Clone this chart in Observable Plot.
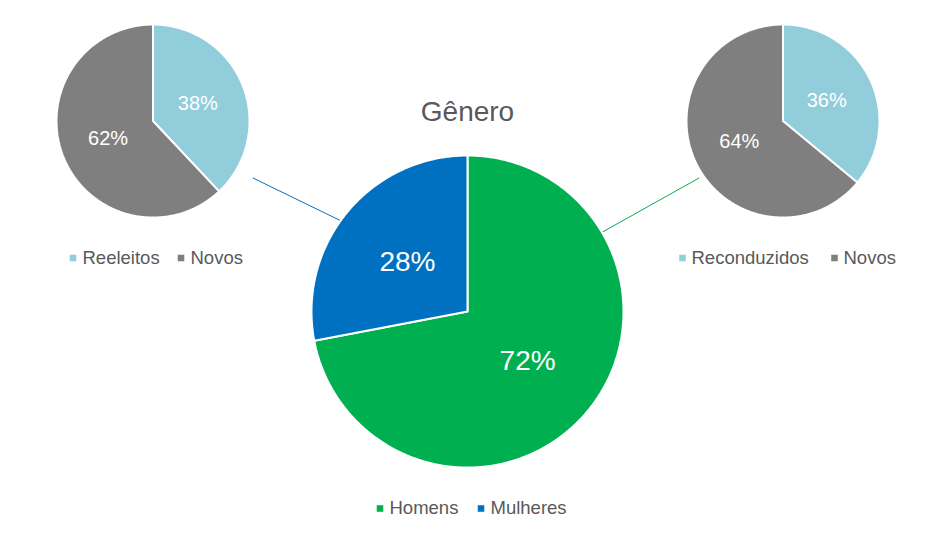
<!DOCTYPE html>
<html>
<head>
<meta charset="utf-8">
<script src="https://cdn.jsdelivr.net/npm/d3@7"></script>
<script src="https://cdn.jsdelivr.net/npm/@observablehq/plot@0.6"></script>
<style>
  html, body { margin: 0; padding: 0; background: #fff; }
  #chart svg { display: block; }
</style>
</head>
<body>
<div id="chart"></div>
<script>
// ---- Data ----
const title = "Gênero";
const generoCats = ["Homens", "Mulheres"];
const generoVals = [72, 28];
const reeleitosCats = ["Reeleitos", "Novos"];
const reeleitosVals = [38, 62];
const reconduzidosCats = ["Reconduzidos", "Novos"];
const reconduzidosVals = [36, 64];

// ---- Styles / layout ----
const colorDomain = ["Homens", "Mulheres", "Reeleitos", "Reconduzidos", "Novos"];
const colorRange = ["#00B050", "#0070C0", "#92CDDC", "#92CDDC", "#7F7F7F"];
const textGray = "#595959";
const font = "'Liberation Sans', Arial, sans-serif";

const W = 935, H = 537;
const pies = [
  {id: "reeleitos", cats: reeleitosCats, vals: reeleitosVals, cx: 152.5, cy: 120.5, r: 96.5, labelSize: 20,
   legend: [{x: 72.5, tx: 82}, {x: 180.5, tx: 190}], legendY: 257.5},
  {id: "reconduzidos", cats: reconduzidosCats, vals: reconduzidosVals, cx: 782.5, cy: 120.5, r: 96.5, labelSize: 20,
   legend: [{x: 682, tx: 691}, {x: 834, tx: 843}], legendY: 257.5},
  {id: "genero", cats: generoCats, vals: generoVals, cx: 467, cy: 311, r: 156, labelSize: 28,
   legend: [{x: 379.5, tx: 389}, {x: 480.5, tx: 490}], legendY: 508}
];

const pieGen = d3.pie().sort(null).value(d => d.value);
const polyPts = [], labels = [], legendItems = [];
for (const p of pies) {
  const data = p.cats.map((c, i) => ({cat: c, value: p.vals[i]}));
  const total = d3.sum(p.vals);
  pieGen(data).forEach((a, i) => {
    const key = p.id + "-" + i;
    polyPts.push({key, cat: a.data.cat, x: p.cx, y: p.cy});
    const n = Math.max(2, Math.ceil((a.endAngle - a.startAngle) / (Math.PI / 360)));
    for (let k = 0; k <= n; k++) {
      const t = a.startAngle + (a.endAngle - a.startAngle) * k / n;
      polyPts.push({key, cat: a.data.cat, x: p.cx + p.r * Math.sin(t), y: p.cy - p.r * Math.cos(t)});
    }
    polyPts.push({key, cat: a.data.cat, x: p.cx, y: p.cy});
    const mid = (a.startAngle + a.endAngle) / 2;
    labels.push({
      text: Math.round(a.data.value / total * 100) + "%",
      x: p.cx + 0.5 * p.r * Math.sin(mid),
      y: p.cy - 0.5 * p.r * Math.cos(mid),
      size: p.labelSize
    });
    legendItems.push({cat: a.data.cat, x: p.legend[i].x, tx: p.legend[i].tx, y: p.legendY});
  });
}

// leader lines (from centre pie edge to the side pies)
const centre = pies[2];
const deg = Math.PI / 180;
const leaders = [
  {from: centre, a1: 305.6, f1: 1.0, to: pies[0], a2: 119.7, f2: 1.19, color: "#0070C0"},
  {from: centre, a1: 59.5, f1: 1.0, to: pies[1], a2: 235.8, f2: 1.05, color: "#00B050"}
].map(l => ({
  x1: l.from.cx + l.f1 * l.from.r * Math.sin(l.a1 * deg),
  y1: l.from.cy - l.f1 * l.from.r * Math.cos(l.a1 * deg),
  x2: l.to.cx + l.f2 * l.to.r * Math.sin(l.a2 * deg),
  y2: l.to.cy - l.f2 * l.to.r * Math.cos(l.a2 * deg),
  color: l.color
}));

const chart = Plot.plot({
  width: W,
  height: H,
  margin: 0,
  style: {fontFamily: font, background: "#fff"},
  x: {domain: [0, W], range: [0, W], axis: null},
  y: {domain: [0, H], range: [0, H], axis: null},
  color: {domain: colorDomain, range: colorRange},
  marks: [
    Plot.link(leaders, {x1: "x1", y1: "y1", x2: "x2", y2: "y2", stroke: d => d.color, strokeWidth: 1}),
    Plot.line(polyPts, {x: "x", y: "y", z: "key", fill: "cat", stroke: "white", strokeWidth: 2, strokeLinejoin: "miter", curve: "linear"}),
    Plot.text(labels, {x: "x", y: "y", text: "text", fill: "white", fontSize: d => d.size}),
    Plot.text([title], {x: () => centre.cx, y: () => 112, text: d => d, fill: textGray, fontSize: 28}),
    Plot.dot(legendItems, {x: "x", y: "y", fill: "cat", symbol: "square", r: 3.7, stroke: null}),
    Plot.text(legendItems, {x: "tx", y: "y", text: "cat", fill: textGray, fontSize: 18.5, textAnchor: "start"})
  ]
});
document.getElementById("chart").appendChild(chart);
</script>
</body>
</html>
